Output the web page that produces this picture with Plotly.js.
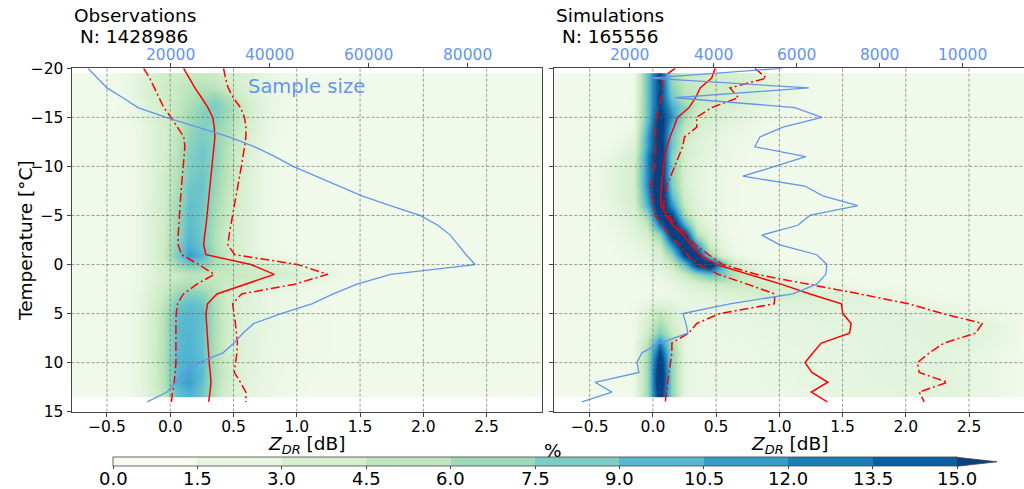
<!DOCTYPE html>
<html>
<head>
<meta charset="utf-8">
<script src="https://cdn.plot.ly/plotly-3.0.1.min.js"></script>
<style>html,body{margin:0;padding:0;background:#fff;}#chart{width:1024px;height:489px;}</style>
</head>
<body>
<div id="chart"></div>
<script>
// ---------- data ----------
const tempCenters = [-19,-18,-17,-16,-15,-14,-13,-12,-11,-10,-9,-8,-7,-6,-5,-4,-3,-2,-1,0,1,2,3,4,5,6,7,8,9,10,11,12,13];
const obsZdr = [-0.45,-0.35,-0.25,-0.15,-0.05,0.05,0.15,0.25,0.35,0.45,0.55,0.65,0.75,0.85,0.95,1.05,1.15,1.25,1.35,1.45,1.55];
const simZdr = [-0.45,-0.35,-0.25,-0.15,-0.05,0.05,0.15,0.25,0.35,0.45,0.55,0.65,0.75,0.85,0.95,1.05,1.15,1.25,1.35,1.45,1.55,1.65,1.75,1.85,1.95,2.05,2.15,2.25,2.35,2.45,2.55,2.65,2.75,2.85];

// percent of samples per temperature row (observations)
const obsPct = [
 [.5,1.0,1.8,2.6,3.2,3.6,4.0,4.2,3.8,3.2,2.6,2.0,1.4,.9,.6,.5,.5,.5,.5,.5,.5],
 [.5,1.0,1.8,2.8,3.4,4.0,4.5,5.0,4.8,3.8,3.0,2.2,1.5,.9,.6,.5,.5,.5,.5,.5,.5],
 [.5,.9,1.7,2.7,3.4,4.0,5.0,6.0,6.8,5.2,3.6,2.5,1.6,1.0,.6,.5,.5,.5,.5,.5,.5],
 [.5,.8,1.5,2.4,3.2,4.2,5.4,6.8,7.5,6.2,4.2,2.8,1.6,.9,.6,.5,.5,.5,.5,.5,.5],
 [.5,.7,1.3,2.2,3.2,4.4,5.8,7.0,7.2,5.8,4.0,2.6,1.4,.8,.5,.5,.5,.5,.5,.5,.5],
 [.5,.6,1.1,2.0,3.0,4.4,6.2,7.2,6.8,5.4,3.8,2.4,1.3,.8,.5,.5,.5,.5,.5,.5,.5],
 [.5,.6,1.0,1.9,3.0,4.6,6.6,7.5,6.8,5.2,3.5,2.2,1.2,.7,.5,.5,.5,.5,.5,.5,.5],
 [.5,.6,1.0,1.9,3.0,4.7,6.9,7.8,6.8,5.0,3.4,2.1,1.2,.7,.5,.5,.5,.5,.5,.5,.5],
 [.5,.6,1.0,1.9,3.1,4.9,7.1,8.0,6.7,4.9,3.3,2.0,1.1,.7,.5,.5,.5,.5,.5,.5,.5],
 [.5,.6,1.0,1.9,3.1,5.0,7.3,7.8,6.6,4.7,3.2,2.0,1.1,.7,.5,.5,.5,.5,.5,.5,.5],
 [.5,.6,1.0,2.0,3.3,5.2,7.6,8.0,6.4,4.6,3.1,1.9,1.1,.7,.5,.5,.5,.5,.5,.5,.5],
 [.5,.6,1.0,2.0,3.3,5.4,8.0,8.2,6.2,4.4,3.0,1.9,1.1,.7,.5,.5,.5,.5,.5,.5,.5],
 [.5,.6,1.0,2.0,3.4,5.6,8.2,8.0,6.0,4.2,2.9,1.8,1.0,.7,.5,.5,.5,.5,.5,.5,.5],
 [.5,.6,1.0,2.1,3.5,5.9,8.5,8.0,5.8,4.1,2.8,1.8,1.0,.7,.5,.5,.5,.5,.5,.5,.5],
 [.5,.6,1.0,2.1,3.5,6.0,8.6,7.8,5.6,3.9,2.7,1.7,1.0,.7,.5,.5,.5,.5,.5,.5,.5],
 [.5,.6,1.0,2.1,3.6,6.2,8.8,7.8,5.4,3.8,2.6,1.7,1.0,.7,.5,.5,.5,.5,.5,.5,.5],
 [.5,.6,1.0,2.2,3.7,6.4,9.0,7.8,5.2,3.7,2.6,1.7,1.0,.7,.5,.5,.5,.5,.5,.5,.5],
 [.5,.6,1.0,2.2,3.8,6.9,9.5,8.0,5.2,3.7,2.6,1.7,1.0,.7,.5,.5,.5,.5,.5,.5,.5],
 [.5,.6,1.0,2.2,3.9,7.5,10.5,9.0,5.8,3.9,2.8,1.9,1.2,.8,.5,.5,.5,.5,.5,.5,.5],
 [.5,.6,1.0,2.0,3.5,6.0,7.8,7.2,5.4,4.4,3.9,3.4,2.8,2.2,1.7,1.2,.9,.7,.5,.5,.5],
 [.5,.6,1.0,1.9,3.0,4.0,4.5,4.4,4.2,4.0,3.9,3.8,3.6,3.3,2.8,2.2,1.8,1.4,1.0,.8,.6],
 [.5,.6,1.1,2.2,3.5,4.7,5.2,5.0,4.4,3.9,3.4,2.9,2.3,1.8,1.4,1.1,.9,.7,.6,.5,.5],
 [.5,.7,1.3,2.5,4.0,6.4,7.4,6.8,4.9,3.4,2.5,1.9,1.4,1.1,.9,.8,.7,.6,.5,.5,.5],
 [.5,.7,1.3,2.7,4.6,7.8,8.6,8.0,5.3,3.4,2.3,1.8,1.4,1.1,.9,.8,.7,.6,.5,.5,.5],
 [.5,.7,1.3,2.8,4.9,8.5,9.0,8.4,5.3,3.4,2.3,1.8,1.4,1.1,.9,.8,.7,.6,.5,.5,.5],
 [.5,.7,1.3,2.8,5.0,8.7,9.1,8.5,5.3,3.4,2.3,1.8,1.4,1.1,.9,.8,.7,.6,.5,.5,.5],
 [.5,.7,1.3,2.9,5.1,8.8,9.2,8.4,5.2,3.3,2.3,1.8,1.4,1.1,.9,.8,.7,.6,.5,.5,.5],
 [.5,.7,1.3,2.9,5.1,8.8,9.3,8.4,5.2,3.3,2.2,1.7,1.3,1.0,.9,.8,.7,.6,.5,.5,.5],
 [.5,.7,1.3,2.9,5.2,8.9,9.4,8.5,5.2,3.3,2.2,1.7,1.3,1.0,.9,.8,.7,.6,.5,.5,.5],
 [.5,.7,1.3,2.9,5.2,9.0,9.5,8.6,5.3,3.3,2.2,1.7,1.3,1.0,.8,.7,.6,.5,.5,.5,.5],
 [.5,.7,1.3,2.8,5.1,9.0,9.9,8.8,5.3,3.4,2.3,1.7,1.3,1.0,.8,.7,.6,.5,.5,.5,.5],
 [.5,.7,1.3,2.7,5.1,9.4,10.4,8.4,5.1,3.2,2.1,1.6,1.2,.9,.7,.6,.5,.5,.5,.5,.5],
 [.5,.7,1.2,2.5,4.6,8.5,9.5,8.0,4.8,3.0,2.0,1.5,1.1,.8,.7,.6,.5,.5,.5,.5,.5]
];

// percent of samples per temperature row (simulations)
const simPct = [
 [.5,.5,.5,.6,8,15,6,4,3.5,3.4, 3.2,3,2.6,2,1.5,1.1,.8,.6,.5,.5, .5,.5,.5,.5,.5,.5,.5,.5,.5,.5, .5,.5,.5,.5],
 [.5,.5,.5,.6,8,15,7,4.5,4,3.6, 3.4,3,2.6,2.2,1.7,1.2,.9,.6,.5,.5, .5,.5,.5,.5,.5,.5,.5,.5,.5,.5, .5,.5,.5,.5],
 [.5,.5,.5,.6,8,15,8,5,4,3.4, 3.2,3,2.6,2.1,1.5,1,.8,.6,.5,.5, .5,.5,.5,.5,.5,.5,.5,.5,.5,.5, .5,.5,.5,.5],
 [.5,.5,.5,.7,8,15,10,6.5,4,3.2, 2.8,2.3,1.8,1.3,1,.7,.5,.5,.5,.5, .5,.5,.5,.5,.5,.5,.5,.5,.5,.5, .5,.5,.5,.5],
 [.5,.5,.6,.8,8,16,11,5.5,3.4,2.8, 2.2,1.8,1.3,1,.7,.5,.5,.5,.5,.5, .5,.5,.5,.5,.5,.5,.5,.5,.5,.5, .5,.5,.5,.5],
 [.5,.5,.7,1,9,17,9,4.4,2.8,2.2, 1.7,1.3,1,.7,.5,.5,.5,.5,.5,.5, .5,.5,.5,.5,.5,.5,.5,.5,.5,.5, .5,.5,.5,.5],
 [.5,.6,.9,1.6,10,17,8,3.8,2.4,1.8, 1.3,1,.7,.5,.5,.5,.5,.5,.5,.5, .5,.5,.5,.5,.5,.5,.5,.5,.5,.5, .5,.5,.5,.5],
 [.5,.8,1.4,2.2,10,17,8,3.3,2.2,1.6, 1.2,.9,.6,.5,.5,.5,.5,.5,.5,.5, .5,.5,.5,.5,.5,.5,.5,.5,.5,.5, .5,.5,.5,.5],
 [.7,1.2,2,2.8,11,18,7,3,2,1.4, 1.1,.8,.5,.5,.5,.5,.5,.5,.5,.5, .5,.5,.5,.5,.5,.5,.5,.5,.5,.5, .5,.5,.5,.5],
 [.7,1.4,2.2,3,11,18,7,2.8,1.8,1.3, 1,.7,.5,.5,.5,.5,.5,.5,.5,.5, .5,.5,.5,.5,.5,.5,.5,.5,.5,.5, .5,.5,.5,.5],
 [.7,1.4,2.3,3.2,11,18,7,2.7,1.7,1.2, .9,.6,.5,.5,.5,.5,.5,.5,.5,.5, .5,.5,.5,.5,.5,.5,.5,.5,.5,.5, .5,.5,.5,.5],
 [.7,1.4,2.3,3.2,11,19,7.5,2.7,1.6,1.1, .9,.6,.5,.5,.5,.5,.5,.5,.5,.5, .5,.5,.5,.5,.5,.5,.5,.5,.5,.5, .5,.5,.5,.5],
 [.7,1.3,2.2,3,10,19,9,3.2,1.7,1.2, .9,.6,.5,.5,.5,.5,.5,.5,.5,.5, .5,.5,.5,.5,.5,.5,.5,.5,.5,.5, .5,.5,.5,.5],
 [.7,1.2,2,2.8,9,18,11,3.8,1.9,1.2, .9,.6,.5,.5,.5,.5,.5,.5,.5,.5, .5,.5,.5,.5,.5,.5,.5,.5,.5,.5, .5,.5,.5,.5],
 [.6,1,1.7,2.4,6,16,15,5.5,2.2,1.3, .9,.6,.5,.5,.5,.5,.5,.5,.5,.5, .5,.5,.5,.5,.5,.5,.5,.5,.5,.5, .5,.5,.5,.5],
 [.5,.9,1.4,2,4,12,18,10,3.3,1.5, 1,.6,.5,.5,.5,.5,.5,.5,.5,.5, .5,.5,.5,.5,.5,.5,.5,.5,.5,.5, .5,.5,.5,.5],
 [.5,.7,1.1,1.6,2.7,6.5,16,16,5.5,2.2, 1.1,.7,.5,.5,.5,.5,.5,.5,.5,.5, .5,.5,.5,.5,.5,.5,.5,.5,.5,.5, .5,.5,.5,.5],
 [.5,.5,.9,1.2,1.9,3.8,11,18,11,3.4, 1.4,.8,.5,.5,.5,.5,.5,.5,.5,.5, .5,.5,.5,.5,.5,.5,.5,.5,.5,.5, .5,.5,.5,.5],
 [.5,.5,.6,1,1.4,2.7,6.5,15,17,6.5, 2.2,1.1,.6,.5,.5,.5,.5,.5,.5,.5, .5,.5,.5,.5,.5,.5,.5,.5,.5,.5, .5,.5,.5,.5],
 [.5,.5,.5,.7,1.1,1.9,3.8,8.5,16,18, 9,3.3,1.7,.9,.6,.5,.5,.5,.5,.5, .5,.5,.5,.5,.5,.5,.5,.5,.5,.5, .5,.5,.5,.5],
 [.5,.5,.5,.6,.8,1.3,2.2,3.8,6.5,8.5, 7.5,5,3.4,2.5,1.8,1.3,1,.7,.5,.5, .5,.5,.5,.5,.5,.5,.5,.5,.5,.5, .5,.5,.5,.5],
 [.5,.5,.5,.5,.6,.8,1.2,1.9,2.6,3.2, 3.7,3.8,3.8,3.5,3,2.6,2.1,1.7,1.3,1, .8,.6,.5,.5,.5,.5,.5,.5,.5,.5, .5,.5,.5,.5],
 [.5,.5,.5,.5,.6,.8,1,1.3,1.6,1.9, 2.1,2.3,2.6,2.9,3,3,2.8,2.6,2.4,2.2, 2,1.8,1.5,1.3,1.1,.9,.7,.6,.5,.5, .5,.5,.5,.5],
 [.5,.5,.5,.6,1.3,2.2,1.6,1.3,1.3,1.3, 1.4,1.5,1.6,1.7,1.8,1.9,1.9,1.9,1.9,1.9, 1.8,1.7,1.6,1.5,1.4,1.3,1.2,1.1,1,.9, .8,.7,.6,.5],
 [.5,.5,.5,.7,2.2,4.4,2.7,1.4,1.2,1.2, 1.3,1.4,1.4,1.5,1.6,1.6,1.6,1.6,1.7,1.7, 1.7,1.7,1.7,1.7,1.7,1.6,1.6,1.5,1.4,1.3, 1.2,1,.8,.6],
 [.5,.5,.5,.8,2.7,5.5,3.2,1.4,1.2,1.1, 1.2,1.3,1.3,1.4,1.4,1.5,1.5,1.5,1.6,1.6, 1.6,1.6,1.7,1.7,1.8,1.8,1.8,1.9,1.9,1.9, 1.8,1.6,1.3,.9],
 [.5,.5,.5,.8,3.3,7.5,3.8,1.4,1.1,1.1, 1.1,1.2,1.2,1.3,1.3,1.4,1.4,1.4,1.5,1.5, 1.5,1.6,1.6,1.7,1.7,1.8,1.8,1.9,1.9,1.9, 1.8,1.6,1.3,.9],
 [.5,.5,.5,.8,4.5,12,5.5,1.4,1.1,1.1, 1.1,1.1,1.2,1.2,1.3,1.3,1.4,1.4,1.4,1.5, 1.5,1.5,1.6,1.6,1.7,1.7,1.8,1.8,1.8,1.7, 1.6,1.4,1.1,.8],
 [.5,.5,.5,.8,5.5,15,6.5,1.4,1.1,1.1, 1.1,1.1,1.1,1.2,1.2,1.3,1.3,1.4,1.4,1.4, 1.5,1.5,1.5,1.6,1.6,1.6,1.6,1.6,1.5,1.4, 1.3,1.1,.9,.7],
 [.5,.5,.5,.8,5.5,17,6.5,1.4,1.1,1, 1,1.1,1.1,1.2,1.2,1.3,1.3,1.4,1.4,1.5, 1.5,1.5,1.6,1.6,1.6,1.7,1.7,1.7,1.6,1.5, 1.3,1.1,.9,.7],
 [.5,.5,.5,.8,5.5,18,6.5,1.4,1.1,1, 1,1.1,1.1,1.1,1.2,1.2,1.3,1.3,1.4,1.4, 1.5,1.5,1.6,1.6,1.7,1.8,1.8,1.8,1.7,1.5, 1.3,1.1,.9,.7],
 [.5,.5,.5,.8,5.5,18,6.5,1.4,1.1,1, 1,1,1.1,1.1,1.2,1.2,1.3,1.3,1.4,1.4, 1.4,1.5,1.5,1.6,1.7,1.8,1.9,1.9,1.8,1.6, 1.3,1.1,.9,.7],
 [.5,.5,.5,.8,5.5,17,6.5,1.4,1.1,1, 1,1,1,1.1,1.1,1.1,1.2,1.2,1.3,1.3, 1.3,1.4,1.4,1.5,1.6,1.7,1.8,1.8,1.7,1.5, 1.3,1.1,.9,.7]
];

// profiles (temperature every 1 degC from -20 to 14)
const lineTemps = [-20,-19,-18,-17,-16,-15,-14,-13,-12,-11,-10,-9,-8,-7,-6,-5,-4,-3,-2,-1,0,1,2,3,4,5,6,7,8,9,10,11,12,13,14];
const obsMedian = [0.106,0.150,0.195,0.248,0.298,0.336,0.348,0.353,0.345,0.341,0.335,0.327,0.319,0.311,0.302,0.292,0.283,0.272,0.265,0.282,0.638,0.822,0.587,0.369,0.295,0.282,0.287,0.291,0.296,0.302,0.308,0.316,0.322,0.314,0.304];
const obsLow = [-0.210,-0.162,-0.125,-0.091,-0.051,0.006,0.055,0.107,0.116,0.108,0.103,0.096,0.089,0.083,0.077,0.070,0.064,0.063,0.063,0.090,0.225,0.348,0.211,0.104,0.058,0.047,0.045,0.045,0.045,0.045,0.045,0.039,0.032,0.018,0.010];
const obsHigh = [0.422,0.436,0.458,0.498,0.555,0.587,0.598,0.598,0.587,0.576,0.562,0.548,0.534,0.519,0.507,0.493,0.479,0.465,0.456,0.510,1.007,1.244,0.983,0.564,0.493,0.506,0.515,0.523,0.531,0.527,0.516,0.506,0.555,0.598,0.598];
const simMedian = [0.492,0.465,0.374,0.337,0.286,0.195,0.166,0.135,0.111,0.091,0.083,0.074,0.065,0.061,0.066,0.105,0.158,0.241,0.298,0.371,0.502,0.754,1.014,1.243,1.491,1.502,1.568,1.555,1.332,1.266,1.203,1.258,1.384,1.253,1.379];
const simLow = [0.176,0.068,0.082,0.066,0.044,0.031,0.020,0.022,0.024,0.019,0.014,-0.002,-0.019,-0.009,0.002,0.017,0.077,0.128,0.211,0.271,0.361,0.518,0.746,0.965,0.960,0.529,0.347,0.281,0.150,0.150,0.139,0.127,0.117,0.107,0.098];
const simHigh = [0.807,0.898,0.610,0.676,0.465,0.345,0.347,0.250,0.235,0.203,0.172,0.138,0.109,0.093,0.085,0.117,0.187,0.270,0.337,0.440,0.553,0.817,1.235,1.636,2.022,2.290,2.605,2.552,2.303,2.187,2.093,2.106,2.329,2.106,2.146];
const obsCount = [3470,5300,7300,10500,13550,19200,25650,31900,37100,41200,44800,49400,54100,58700,64400,70400,74000,76500,78100,79700,81500,64500,57700,52900,48600,42400,36900,34700,32900,30700,25800,23000,21200,19400,15400];
const simCount = [5654,2481,6303,3082,5967,6616,5678,5125,5005,6231,5486,4717,6207,6640,7481,6327,6039,5173,5606,6495,6736,6712,6495,5918,4404,3274,3346,3394,2721,2289,2169,2217,1159,1567,846];

// axis ticks and labels
const xTicks = [-0.5,0,0.5,1,1.5,2,2.5];
const xTickText = ['\u22120.5','0.0','0.5','1.0','1.5','2.0','2.5'];
const yTicks = [-20,-15,-10,-5,0,5,10,15];
const yTickText = ['\u221220','\u221215','\u221210','\u22125','0','5','10','15'];
const obsCountTicks = [20000,40000,60000,80000];
const simCountTicks = [2000,4000,6000,8000,10000];
const cbTicks = [0,1.5,3,4.5,6,7.5,9,10.5,12,13.5,15];
const cbTickText = ['0.0','1.5','3.0','4.5','6.0','7.5','9.0','10.5','12.0','13.5','15.0'];
const titles = {obs: 'Observations', obsN: '\u00a0N: 1428986', sim: 'Simulations', simN: '\u00a0N: 165556'};

// ---------- styling ----------
const FONT = 'DejaVu Sans, Verdana, sans-serif';
const BLUE = '#6495ED';
const AX = '#444';
const GnBu = [[0,'#f7fcf0'],[0.125,'#e0f3db'],[0.25,'#ccebc5'],[0.375,'#a8ddb5'],[0.5,'#7bccc4'],[0.625,'#4eb3d3'],[0.75,'#2b8cbe'],[0.875,'#0868ac'],[1,'#084081']];
const cbColors = ['rgb(247,252,240)','rgb(229,245,223)','rgb(212,238,206)','rgb(190,229,191)','rgb(159,218,184)','rgb(123,204,196)','rgb(87,184,208)','rgb(57,156,198)','rgb(29,126,183)','rgb(8,96,163)'];
const cbScale = [];
cbColors.forEach((c,i)=>{cbScale.push([i/10,c]); cbScale.push([(i+1)/10,c]);});
const BG = 'rgb(241,250,234)';

const W = 1024, H = 489;
const px = v => v / W, py = v => 1 - v / H;
const PL = [71.5, 541.7], PR = [554.3, 1024];
const domL = [px(PL[0]), px(PL[1])], domR = [px(PR[0]), 1];
const domY = [py(411.7), py(68.3)];
const xRange = [-0.78, 2.935];
const obsCountRange = [140, 94940], simCountRange = [180, 11480];
const CB_LEFT = 113, CB_RIGHT = 957, CB_TOP = 457.3, CB_BOT = 466.3;

function redLine(x, y, xa, ya, dash){
  return {type:'scatter', mode:'lines', x:x, y:y, xaxis:xa, yaxis:ya,
    line:{color:'red', width:1.5, dash:dash}, hoverinfo:'skip', showlegend:false};
}

const traces = [
  {type:'heatmap', x:obsZdr, y:tempCenters, z:obsPct, xaxis:'x', yaxis:'y', colorscale:GnBu, zmin:0, zmax:15, zsmooth:'best', showscale:false, hoverinfo:'skip'},
  {type:'heatmap', x:simZdr, y:tempCenters, z:simPct, xaxis:'x2', yaxis:'y2', colorscale:GnBu, zmin:0, zmax:15, zsmooth:'best', showscale:false, hoverinfo:'skip'},
  redLine(obsMedian, lineTemps, 'x', 'y', 'solid'),
  redLine(obsLow, lineTemps, 'x', 'y', '9px,3px,2px,3px'),
  redLine(obsHigh, lineTemps, 'x', 'y', '9px,3px,2px,3px'),
  redLine(simMedian, lineTemps, 'x2', 'y2', 'solid'),
  redLine(simLow, lineTemps, 'x2', 'y2', '9px,3px,2px,3px'),
  redLine(simHigh, lineTemps, 'x2', 'y2', '9px,3px,2px,3px'),
  {type:'scatter', mode:'lines', x:obsCount, y:lineTemps, xaxis:'x3', yaxis:'y', line:{color:BLUE, width:1.3}, hoverinfo:'skip', showlegend:false},
  {type:'scatter', mode:'lines', x:simCount, y:lineTemps, xaxis:'x4', yaxis:'y2', line:{color:BLUE, width:1.3}, hoverinfo:'skip', showlegend:false},
  {type:'scatter', mode:'markers', x:[null], y:[null], xaxis:'x', yaxis:'y', hoverinfo:'skip', showlegend:false,
    marker:{color:[0], cmin:0, cmax:15, colorscale:cbScale, showscale:true, opacity:0,
      colorbar:{orientation:'h', lenmode:'pixels', len:CB_RIGHT-CB_LEFT, thickness:CB_BOT-CB_TOP, thicknessmode:'pixels',
        x:px((CB_LEFT+CB_RIGHT)/2), xanchor:'center', y:py(CB_TOP), yanchor:'top', xpad:0, ypad:0,
        outlinecolor:AX, outlinewidth:0.8, ticks:'outside', ticklen:3, tickcolor:AX,
        tickvals:cbTicks, showticklabels:false}}}
];

const shapes = [];
// heatmap background (empty bins)
[['x','y'],['x2','y2']].forEach(([xa,ya])=>{
  shapes.push({type:'rect', xref:xa, yref:ya, x0:-0.8, x1:3.0, y0:tempCenters[0]-0.5, y1:tempCenters[tempCenters.length-1]+0.5, fillcolor:BG, line:{width:0}, layer:'below'});
});
// grid
[['x','y'],['x2','y2']].forEach(([xa,ya])=>{
  xTicks.forEach(t=>shapes.push({type:'line', xref:xa, yref:ya+' domain', x0:t, x1:t, y0:0, y1:1, line:{color:'rgba(90,90,90,0.75)', width:0.8, dash:'3px,2px'}, layer:'above'}));
  yTicks.slice(1,-1).forEach(t=>shapes.push({type:'line', xref:xa+' domain', yref:ya, x0:0, x1:1, y0:t, y1:t, line:{color:'rgba(90,90,90,0.75)', width:0.8, dash:'3px,2px'}, layer:'above'}));
});
// colorbar extension triangle
shapes.push({type:'path', xref:'paper', yref:'paper',
  path:`M ${px(CB_RIGHT)} ${py(CB_TOP)} L ${px(997)} ${py((CB_TOP+CB_BOT)/2)} L ${px(CB_RIGHT)} ${py(CB_BOT)} Z`,
  fillcolor:'rgb(8,64,129)', line:{color:AX, width:0.8}});

const tickFont = {family:FONT, size:15.5, color:'#000'};
function xBottom(dom, anchor){
  return {domain:dom, range:xRange, anchor:anchor, tickvals:xTicks, ticktext:xTickText, ticks:'outside', ticklen:4, tickcolor:AX,
    showline:true, linecolor:AX, linewidth:1, mirror:true, showgrid:false, zeroline:false, ticklabelstandoff:-3, tickfont:tickFont, fixedrange:true};
}
function xTop(over, anchor, rng, tv){
  return {overlaying:over, side:'top', anchor:anchor, range:rng, tickvals:tv, showticklabels:false, ticks:'outside', ticklen:4, tickcolor:AX,
    showline:false, showgrid:false, zeroline:false};
}
function yAx(anchor, labels, mirror){
  return {domain:domY, range:[15,-20], anchor:anchor, tickvals:yTicks, ticktext:yTickText, showticklabels:labels, ticks:'outside', ticklen:4, tickcolor:AX,
    showline:true, linecolor:AX, linewidth:1, mirror:mirror, showgrid:false, zeroline:false, tickfont:tickFont};
}

const ann = (text, x, y, size, extra) => Object.assign({text:text, x:px(x), y:py(y), xref:'paper', yref:'paper', showarrow:false,
  font:{family:FONT, size:size, color:'#000'}}, extra||{});

const annotations = [
  ann(titles.obs, 71.5, 15.5, 18.5, {xanchor:'left', yanchor:'middle'}),
  ann(titles.obsN, 71.5, 37, 18.5, {xanchor:'left', yanchor:'middle'}),
  ann(titles.sim, 554.3, 15.5, 18.5, {xanchor:'left', yanchor:'middle'}),
  ann(titles.simN, 554.3, 37, 18.5, {xanchor:'left', yanchor:'middle'}),
  ann('Sample size', 306.5, 86, 19.5, {xanchor:'center', yanchor:'middle', font:{family:FONT, size:19.5, color:BLUE}}),
  ann('Temperature [°C]', 25, 241, 18.5, {xanchor:'center', yanchor:'middle', textangle:-90}),
  ann('<i>Z</i><sub><i>DR</i></sub> [dB]', 306.6, 445, 18.5, {xanchor:'center', yanchor:'middle'}),
  ann('<i>Z</i><sub><i>DR</i></sub> [dB]', 789, 445, 18.5, {xanchor:'center', yanchor:'middle'}),
  ann('%', 553, 450, 18.5, {xanchor:'center', yanchor:'middle'})
];
// top (sample size) axis labels, placed along each top axis scale
const topLabel = (v, pane, rng) => ann(String(v), pane[0] + (pane[1]-pane[0])*(v-rng[0])/(rng[1]-rng[0]), 54.7, 15.5,
  {xanchor:'center', yanchor:'middle', font:{family:FONT, size:15.5, color:BLUE}});
obsCountTicks.forEach(v=>annotations.push(topLabel(v, PL, obsCountRange)));
simCountTicks.forEach(v=>annotations.push(topLabel(v, PR, simCountRange)));
// colorbar tick labels placed along the bar's value scale
cbTicks.forEach((v,i)=>{
  annotations.push(ann(cbTickText[i], CB_LEFT + (CB_RIGHT-CB_LEFT)*v/15, 478.5, 18, {xanchor:'center', yanchor:'middle'}));
});

const layout = {
  width:W, height:H, margin:{l:0, r:0, t:0, b:0, autoexpand:false}, paper_bgcolor:'#fff', plot_bgcolor:'#fff', showlegend:false,
  font:{family:FONT},
  xaxis: xBottom(domL, 'y'),
  xaxis2: xBottom(domR, 'y2'),
  xaxis3: xTop('x', 'y', obsCountRange, obsCountTicks),
  xaxis4: xTop('x2', 'y2', simCountRange, simCountTicks),
  yaxis: yAx('x', true, true),
  yaxis2: yAx('x2', false, false),
  shapes: shapes,
  annotations: annotations
};

Plotly.newPlot('chart', traces, layout, {staticPlot:true, displayModeBar:false});
</script>
</body>
</html>
